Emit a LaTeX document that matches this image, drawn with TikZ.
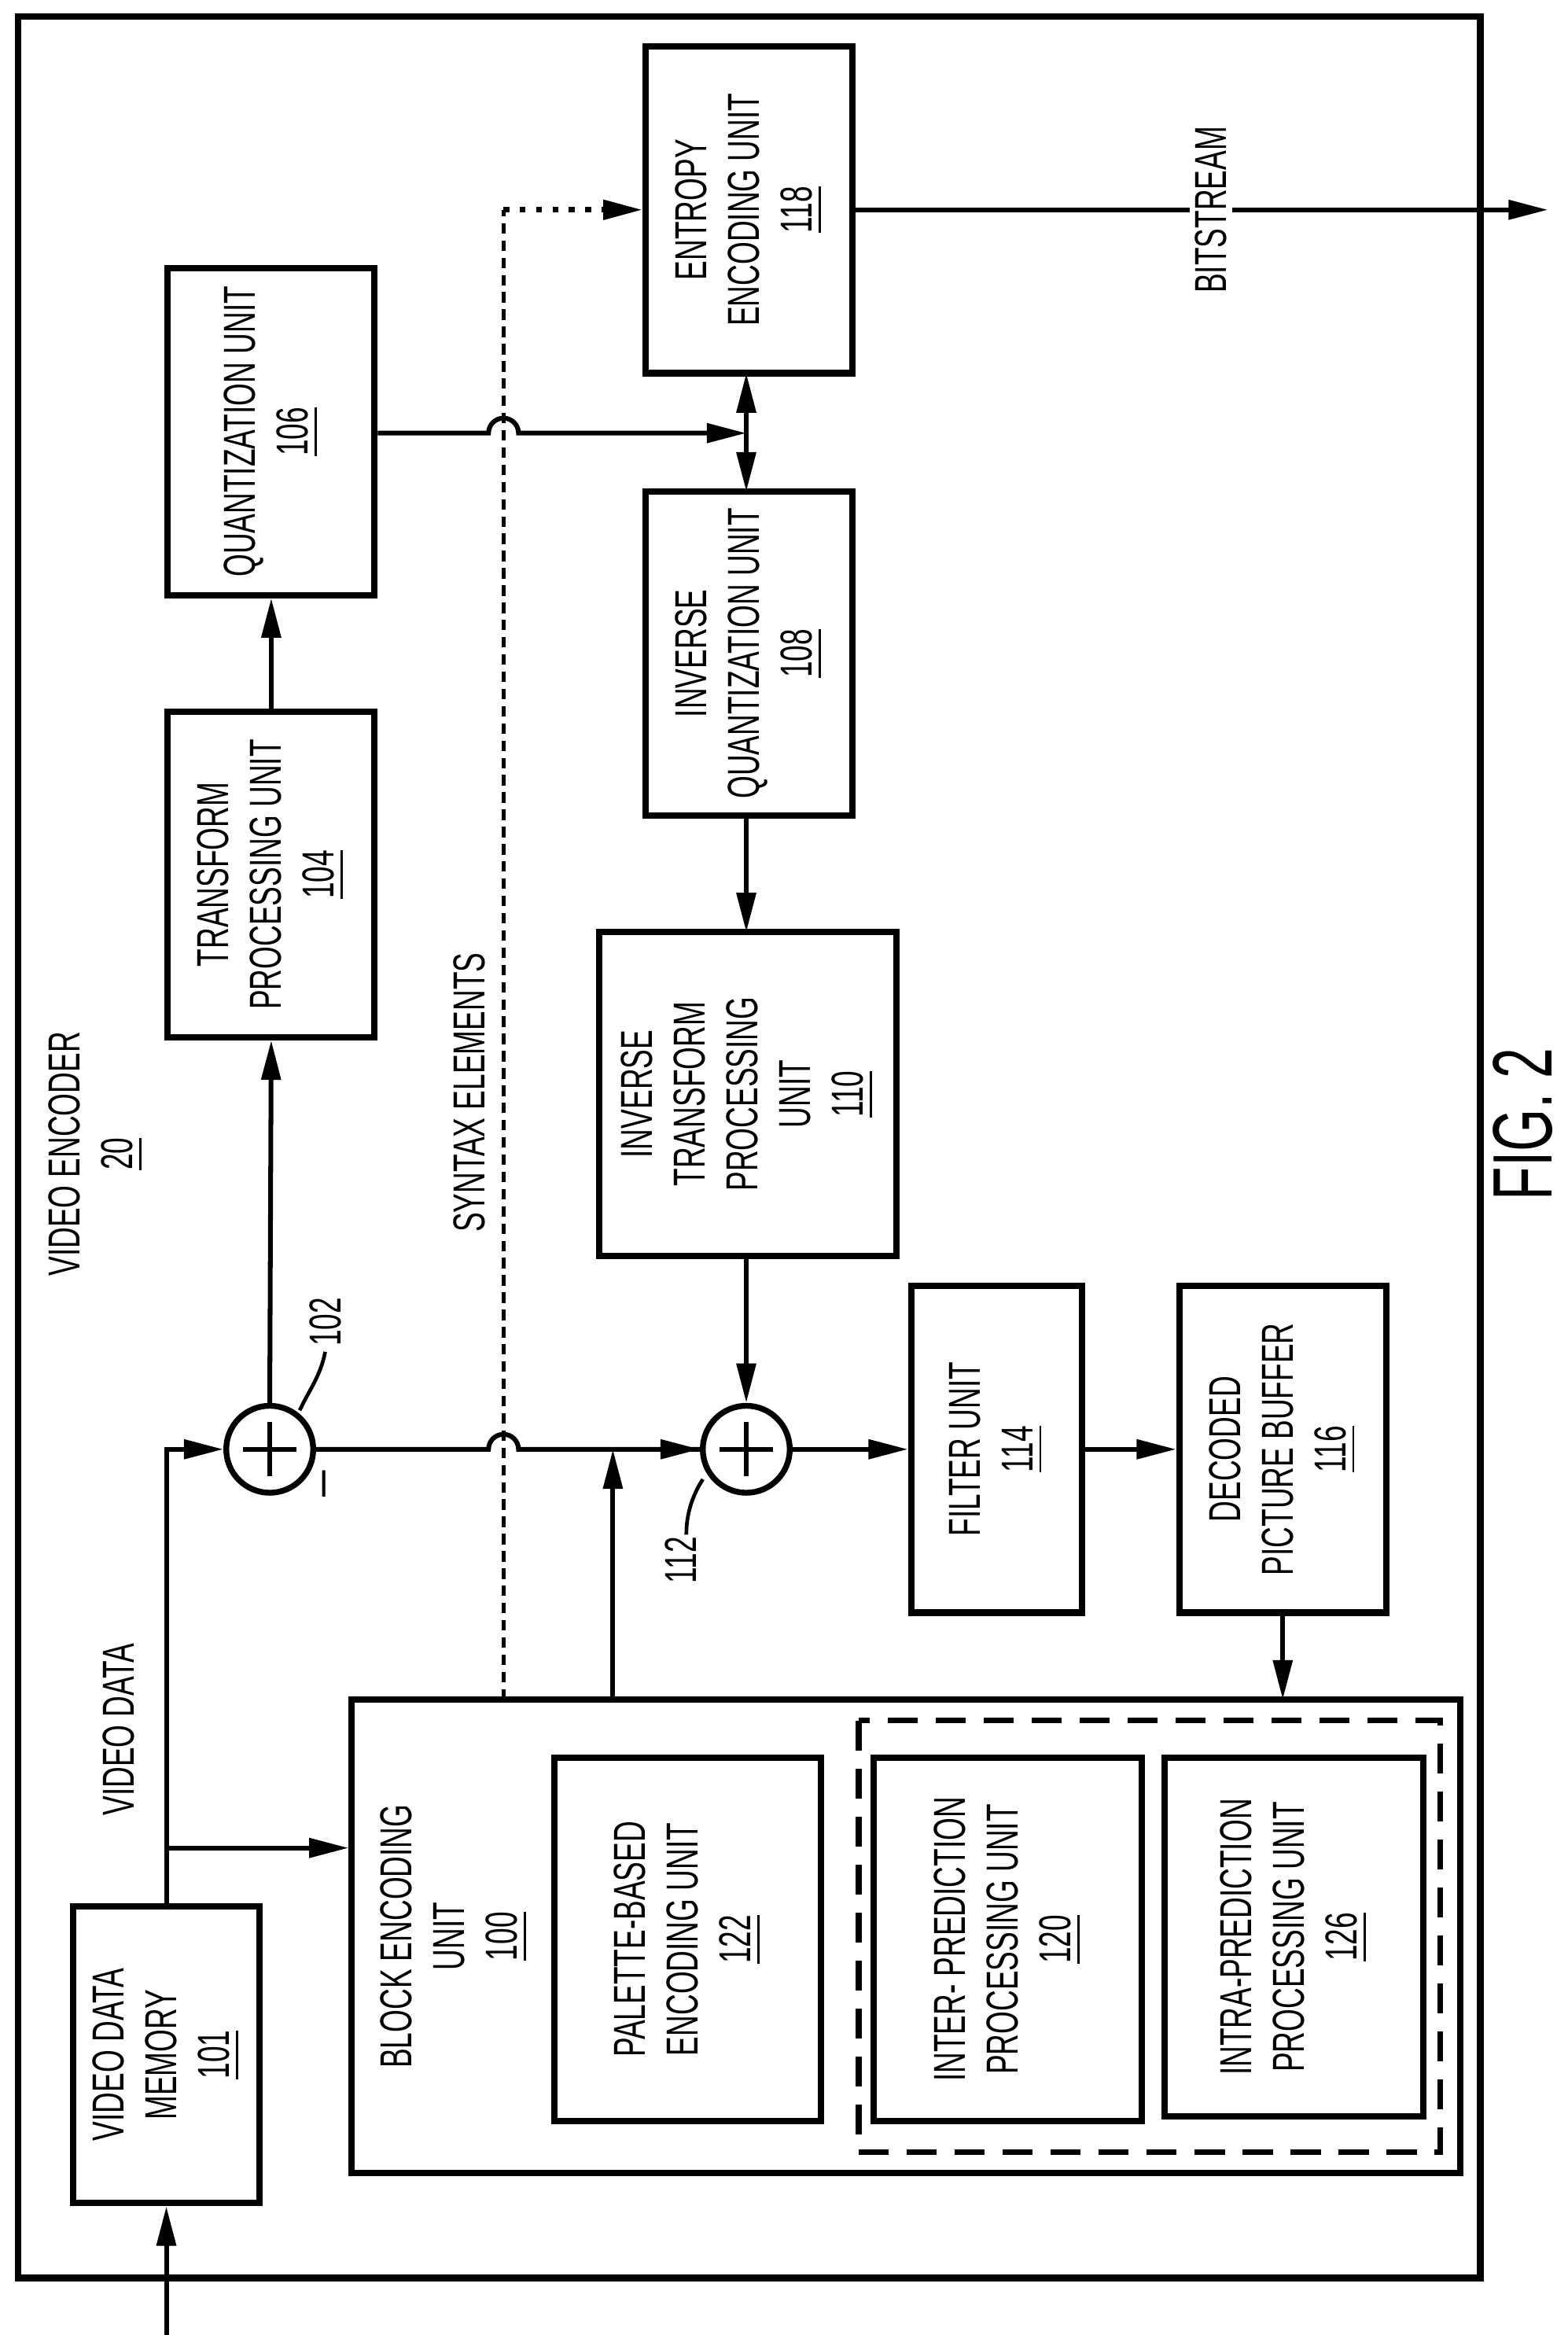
\documentclass[tikz,border=0pt]{standalone}
\usepackage{fontspec}
\setmainfont{Liberation Sans}
\newfontfamily\condfont[FakeStretch=0.65]{Liberation Sans}
\usetikzlibrary{arrows.meta}
\begin{document}
\begin{tikzpicture}[x=0.01cm,y=-0.01cm,line width=0.9pt,
  box/.style={draw,line width=1.2pt,inner sep=0pt},
  lab/.style={rotate=90,align=center,font=\condfont\fontsize{8.5}{10}\selectfont,inner sep=0pt},
  arr/.style={-{Triangle[length=7.5pt,width=3.6pt]}},
  sum/.style={draw,line width=1.1pt,circle,minimum size=0.58cm,inner sep=0pt}]
\useasboundingbox (0,0) rectangle (1046,1558);
\newcommand\bx[6]{\node[box,minimum width={(#4-#2)*0.01cm},minimum height={(#5-#3)*0.01cm}] (#1) at ({(#2+#4)/2},{(#3+#5)/2}) {};\node[lab] (#1t) at (#1) {#6};}
\draw[line width=1.3pt] (12,11) rectangle (988,1520);
\node[lab] (ve) at (64,770) {VIDEO ENCODER\\\underline{20}};
\bx{vdm}{49}{1272}{173}{1470}{VIDEO DATA\\MEMORY\\\underline{101}}
\node[box,minimum width=7.39cm,minimum height=3.16cm] (beu) at (604.5,1292) {};
\node[lab] (beut) at (303,1292) {BLOCK ENCODING\\UNIT\\\underline{100}};
\bx{pal}{370}{1173}{548}{1415}{PALETTE-BASED\\ENCODING UNIT\\\underline{122}}
\draw[line width=1.1pt,dash pattern=on 0.2cm off 0.12cm] (573,1148) rectangle (961,1436);
\bx{inter}{583}{1173}{762}{1415}{INTER- PREDICTION\\PROCESSING UNIT\\\underline{120}}
\bx{intra}{777}{1173}{950}{1412}{INTRA-PREDICTION\\PROCESSING UNIT\\\underline{126}}
\bx{tr}{112}{475}{250}{692}{TRANSFORM\\PROCESSING UNIT\\\underline{104}}
\bx{q}{112}{179}{250}{397}{QUANTIZATION UNIT\\\underline{106}}
\bx{ent}{431}{31}{569}{249}{ENTROPY\\ENCODING UNIT\\\underline{118}}
\bx{iq}{431}{328}{569}{544}{INVERSE\\QUANTIZATION UNIT\\\underline{108}}
\bx{it}{400}{622}{598}{838}{INVERSE\\TRANSFORM\\PROCESSING\\UNIT\\\underline{110}}
\bx{fil}{608}{858}{722}{1076}{FILTER UNIT\\\underline{114}}
\bx{dpb}{787}{858}{925}{1076}{DECODED\\PICTURE BUFFER\\\underline{116}}
\node[sum] (s1) at (180,967) {};
\draw (180,949) -- (180,985) (162,967) -- (198,967);
\node[sum] (s2) at (498,967) {};
\draw (498,949) -- (498,985) (480,967) -- (516,967);
\coordinate (in) at (111,1558);
\draw[arr] (in) -- (vdm.south-|in);
\draw[arr] (111,1272) -- (111,967) -- (s1.west);
\draw[arr] (111,1233) -- (beu.west|-111,1233);
\node[lab] (vd) at (79,1154) {VIDEO DATA};
\draw[arr] (s1.north) -- (tr.south);
\draw[arr] (tr.north) -- (q.south);
\draw (s1.east) -- (326,967) arc[start angle=180,end angle=360,radius=10] -- (s2.west);
\draw[arr] (400,967) -- (s2.west);
\node[lab,font=\fontsize{9}{10}\selectfont] (m) at (220,990) {–};
\draw[arr] (q.east|-0,289) -- (326,289) arc[start angle=180,end angle=360,radius=10] -- (498,289);
\draw[{Triangle[length=7.5pt,width=3.6pt]}-{Triangle[length=7.5pt,width=3.6pt]}] (498,249) -- (498,328);
\draw[dash pattern=on 0.07cm off 0.045cm,line width=0.7pt] (336,1134) -- (336,140);
\draw[arr,dotted,line width=1.1pt] (336,140) -- (ent.west|-0,140);
\node[lab] (se) at (313,729) {SYNTAX ELEMENTS};
\coordinate (bs) at (1033,140);
\draw[arr] (ent.east|-0,140) -- (bs);
\node[lab,fill=white,inner sep=1pt] (bst) at (808,140) {BITSTREAM};
\draw[arr] (iq.south-|498,0) -- (498,622);
\draw[arr] (498,838) -- (s2.north);
\draw[arr] (409,1134) -- (409,967);
\draw[arr] (s2.east) -- (fil.west|-0,967);
\draw[arr] (fil.east|-0,967) -- (dpb.west|-0,967);
\draw[arr] (856,1076) -- (856,1134);
\node[lab] (l102) at (217,882) {102};
\draw[line width=0.7pt] (200,941) .. controls (206,928) and (214,918) .. (217,902);
\node[lab] (l112) at (454,1041) {112};
\draw[line width=0.7pt] (469,987) .. controls (462,998) and (458,1010) .. (458,1024);
\node[rotate=90,font=\fontsize{16}{18}\selectfont\condfont] (fig) at (1016,750) {FIG. 2};
\end{tikzpicture}
\end{document}
